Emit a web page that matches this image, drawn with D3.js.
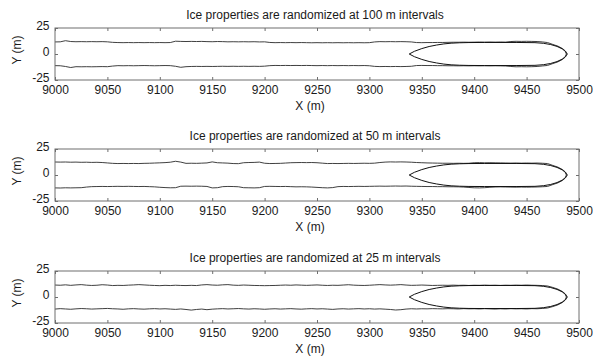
<!DOCTYPE html>
<html>
<head>
<meta charset="utf-8">
<script src="https://cdn.jsdelivr.net/npm/d3@7"></script>
<style>
  html, body { margin: 0; padding: 0; background: #fff; }
  svg { display: block; font-family: "Liberation Sans", Arial, sans-serif; }
</style>
</head>
<body>
<script>
// Panel titles
const titles = [
  "Ice properties are randomized at 100 m intervals",
  "Ice properties are randomized at 50 m intervals",
  "Ice properties are randomized at 25 m intervals"
];

// Axis ticks
const xTicks = [9000, 9050, 9100, 9150, 9200, 9250, 9300, 9350, 9400, 9450, 9500];
const yTicks = [-25, 0, 25];

// Along-channel stations (m) shared by all channel edge traces
const edgeX = [
  9000, 9005, 9010, 9015, 9020, 9025, 9030, 9035, 9040, 9045,
  9050, 9055, 9060, 9065, 9070, 9075, 9080, 9085, 9090, 9095,
  9100, 9105, 9110, 9115, 9120, 9125, 9130, 9135, 9140, 9145,
  9150, 9155, 9160, 9165, 9170, 9175, 9180, 9185, 9190, 9195,
  9200, 9205, 9210, 9215, 9220, 9225, 9230, 9235, 9240, 9245,
  9250, 9255, 9260, 9265, 9270, 9275, 9280, 9285, 9290, 9295,
  9300, 9305, 9310, 9315, 9320, 9325, 9330, 9335, 9340, 9345,
  9350, 9355, 9360, 9365, 9370, 9375, 9380, 9385, 9390, 9395,
  9400, 9405, 9410, 9415, 9420, 9425, 9430, 9435, 9440, 9445,
  9450, 9455, 9460, 9465, 9470, 9475, 9480, 9484, 9487, 9489
];

// Channel edges, 100 m randomization
const edgeTop100 = [
  11.6, 11.7, 12.8, 12.0, 11.8, 11.9, 11.8, 11.9, 11.8, 11.9,
  11.7, 11.2, 11.0, 10.9, 11.0, 10.9, 11.0, 10.9, 11.0, 10.9,
  11.0, 10.9, 11.0, 12.3, 12.1, 12.0, 12.1, 12.0, 12.1, 11.9,
  11.8, 12.0, 11.9, 11.7, 11.8, 11.7, 11.8, 11.7, 11.8, 11.6,
  11.7, 11.1, 10.9, 11.0, 10.9, 11.0, 10.9, 11.0, 10.9, 10.8,
  10.9, 10.8, 10.9, 10.8, 10.9, 10.8, 10.9, 10.8, 10.9, 10.8,
  10.9, 11.6, 11.9, 11.8, 11.9, 11.8, 11.9, 11.8, 11.6, 11.0,
  10.9, 11.0, 11.0, 11.1, 11.1, 11.2, 11.3, 11.3, 11.4, 11.3,
  11.4, 11.5, 11.4, 11.5, 11.4, 11.5, 11.4, 12.0, 12.2, 12.1,
  12.2, 12.1, 12.0, 11.6, 11.0, 9.2, 7.5, 5.4, 2.9, 0
];
const edgeBot100 = [
  -11.2, -11.3, -12.0, -13.0, -12.2, -12.3, -12.2, -12.3, -12.2, -12.1,
  -12.2, -11.6, -11.2, -11.3, -11.2, -11.3, -11.2, -11.1, -11.2, -11.3,
  -11.2, -11.1, -11.2, -11.8, -12.8, -12.2, -12.0, -11.9, -12.0, -11.9,
  -12.0, -11.9, -11.8, -11.9, -11.8, -11.9, -11.8, -11.9, -11.8, -11.9,
  -11.7, -11.2, -11.0, -11.1, -11.0, -11.1, -11.0, -11.1, -11.0, -11.1,
  -11.2, -11.1, -11.2, -11.1, -11.2, -11.1, -11.2, -11.1, -11.2, -11.1,
  -11.3, -11.9, -12.1, -12.0, -12.1, -12.0, -12.1, -12.0, -11.8, -11.1,
  -11.0, -11.1, -11.1, -11.2, -11.2, -11.3, -11.3, -11.4, -11.3, -11.4,
  -11.3, -11.4, -11.3, -11.4, -11.3, -11.4, -11.5, -12.0, -12.3, -12.2,
  -12.3, -12.2, -12.0, -11.5, -11.0, -9.2, -7.5, -5.4, -2.9, 0
];

// Channel edges, 50 m randomization
const edgeTop50 = [
  12.5, 12.4, 12.5, 12.3, 12.4, 12.2, 12.3, 12.1, 12.2, 12.0,
  11.6, 11.2, 11.0, 11.1, 11.0, 11.1, 11.0, 11.2, 11.3, 11.5,
  11.7, 11.9, 12.3, 13.2, 12.4, 11.2, 11.3, 11.2, 11.4, 11.6,
  12.6, 11.8, 11.6, 11.4, 11.0, 10.9, 11.8, 12.0, 12.1, 12.4,
  11.3, 11.0, 11.1, 11.2, 11.5, 11.8, 11.9, 12.0, 11.9, 12.0,
  11.8, 11.4, 11.0, 11.1, 11.0, 11.1, 11.2, 11.1, 11.2, 11.3,
  11.2, 11.4, 12.0, 12.4, 12.6, 12.5, 12.6, 12.5, 12.3, 12.0,
  11.8, 11.6, 11.5, 11.4, 11.3, 11.3, 11.2, 11.3, 11.2, 11.3,
  11.8, 11.9, 11.7, 11.8, 11.7, 11.6, 11.5, 11.4, 11.5, 11.4,
  11.5, 11.4, 11.5, 11.3, 11.0, 9.2, 7.5, 5.4, 2.9, 0
];
const edgeBot50 = [
  -12.4, -12.5, -12.3, -12.4, -12.3, -12.2, -11.6, -11.2, -11.1, -11.0,
  -11.1, -11.0, -10.9, -11.0, -10.9, -11.0, -11.1, -11.0, -11.2, -11.4,
  -11.8, -12.1, -12.3, -12.2, -10.8, -10.7, -10.8, -10.7, -10.8, -11.0,
  -12.4, -12.2, -11.2, -11.0, -11.1, -11.3, -12.2, -12.3, -12.4, -12.2,
  -11.0, -10.9, -11.0, -11.1, -11.0, -11.2, -11.4, -11.3, -11.4, -11.6,
  -11.9, -12.2, -12.4, -12.1, -11.2, -11.0, -11.1, -11.0, -10.9, -11.0,
  -10.9, -10.8, -10.7, -10.8, -10.7, -10.6, -10.7, -10.6, -10.8, -10.9,
  -11.0, -11.1, -11.1, -11.2, -11.2, -11.3, -11.3, -11.4, -11.6, -12.0,
  -12.3, -12.4, -12.2, -11.8, -11.5, -11.4, -11.5, -11.6, -11.7, -11.6,
  -11.7, -11.6, -11.5, -11.3, -11.0, -9.2, -7.5, -5.4, -2.9, 0
];

// Channel edges, 25 m randomization
const edgeTop25 = [
  11.5, 11.3, 11.7, 11.2, 11.6, 11.9, 11.4, 11.1, 11.3, 11.8,
  11.5, 11.0, 11.2, 11.1, 11.4, 11.6, 11.9, 11.6, 11.3, 11.1,
  10.9, 11.2, 11.0, 11.3, 11.1, 11.0, 11.2, 11.0, 11.6, 11.9,
  11.5, 11.3, 11.7, 11.9, 11.4, 11.2, 11.5, 11.3, 11.1, 11.0,
  10.9, 11.0, 11.1, 11.3, 11.5, 11.3, 11.6, 11.4, 11.2, 11.4,
  11.6, 11.3, 11.1, 11.3, 11.2, 11.5, 11.8, 11.4, 11.2, 11.1,
  11.3, 11.6, 11.9, 11.6, 11.4, 11.6, 11.9, 11.5, 11.2, 11.3,
  11.5, 11.3, 11.1, 11.2, 11.3, 11.2, 11.4, 11.2, 11.3, 11.1,
  11.3, 11.2, 11.4, 11.2, 11.3, 11.1, 11.3, 11.2, 11.4, 11.3,
  11.5, 11.3, 11.2, 11.0, 10.6, 9.2, 7.5, 5.4, 2.9, 0
];
const edgeBot25 = [
  -11.6, -11.2, -11.5, -11.8, -11.4, -11.1, -11.3, -11.6, -11.4, -11.2,
  -11.0, -11.3, -11.5, -11.8, -11.4, -11.2, -11.5, -11.7, -11.4, -11.2,
  -11.5, -11.3, -11.6, -11.9, -11.5, -12.0, -12.6, -12.0, -11.6, -12.2,
  -11.7, -11.4, -11.2, -11.5, -11.3, -11.1, -11.4, -11.6, -11.3, -11.5,
  -11.8, -11.5, -11.3, -11.6, -11.4, -11.2, -11.5, -11.7, -11.4, -11.2,
  -11.5, -11.3, -11.6, -11.9, -11.5, -11.3, -11.6, -11.4, -11.2, -11.5,
  -11.3, -11.6, -11.4, -11.7, -12.0, -12.5, -12.2, -11.6, -11.3, -11.5,
  -11.3, -11.4, -11.2, -11.3, -11.4, -11.2, -11.3, -11.5, -11.2, -11.4,
  -11.3, -11.5, -11.2, -11.4, -11.6, -11.3, -11.5, -11.2, -11.4, -11.3,
  -11.5, -11.2, -11.3, -11.0, -10.6, -9.2, -7.5, -5.4, -2.9, 0
];

// Ship hull waterline: stations (m) and half-breadth (m)
const hullX = [9338, 9343, 9350, 9357, 9364, 9371, 9378, 9386, 9395, 9410,
               9440, 9458, 9466, 9473, 9479, 9484, 9487, 9488];
const hullHalfBeam = [0, 2.6, 5.2, 7.2, 8.6, 9.7, 10.4, 10.8, 11.0, 11.1,
                      11.1, 10.9, 10.3, 9.1, 7.3, 4.9, 2.5, 0];

const edgeTops = [edgeTop100, edgeTop50, edgeTop25];
const edgeBots = [edgeBot100, edgeBot50, edgeBot25];

// ---- layout ----
const W = 593, H = 361;
const left = 55, right = 579;
const panelTops = [28, 149, 271];
const panelH = 52;
const boxColor = "#6e6e6e";
const textColor = "#1a1a1a";

const svg = d3.select("body").append("svg")
  .attr("width", W).attr("height", H);

const x = d3.scaleLinear().domain([9000, 9500]).range([left, right]);

panelTops.forEach((top, i) => {
  const y = d3.scaleLinear().domain([-25, 25]).range([top + panelH, top]);
  const g = svg.append("g");

  const line = d3.line().x(d => x(d[0])).y(d => y(d[1]));

  // channel edges
  [edgeTops[i], edgeBots[i]].forEach(vals => {
    g.append("path")
      .attr("d", line(edgeX.map((xv, k) => [xv, vals[k]])))
      .attr("fill", "none")
      .attr("stroke", "#2a2a2a")
      .attr("stroke-width", 0.9);
  });

  // hull outline (starboard then port side)
  const hullPts = hullX.map((xv, k) => [xv, hullHalfBeam[k]])
    .concat(hullX.map((xv, k) => [xv, -hullHalfBeam[k]]).reverse());
  g.append("path")
    .attr("d", line(hullPts))
    .attr("fill", "none")
    .attr("stroke", "#111")
    .attr("stroke-width", 1);

  // inward ticks on all four sides
  const axB = g.append("g").attr("transform", `translate(0,${top + panelH})`)
    .call(d3.axisBottom(x).tickValues(xTicks).tickSize(-3).tickPadding(4).tickFormat(d => String(d)));
  const axT = g.append("g").attr("transform", `translate(0,${top})`)
    .call(d3.axisTop(x).tickValues(xTicks).tickSize(-3).tickFormat(""));
  const axL = g.append("g").attr("transform", `translate(${left},0)`)
    .call(d3.axisLeft(y).tickValues(yTicks).tickSize(-3).tickPadding(5).tickFormat(d => String(d)));
  const axR = g.append("g").attr("transform", `translate(${right},0)`)
    .call(d3.axisRight(y).tickValues(yTicks).tickSize(-3).tickFormat(""));

  [axB, axT, axL, axR].forEach(a => {
    a.select(".domain").remove();
    a.selectAll(".tick line").attr("stroke", boxColor);
  });
  axB.selectAll(".tick text")
    .attr("y", 13.5).attr("dy", 0)
    .attr("fill", textColor).style("font-size", "12px")
    .style("font-family", '"Liberation Sans", Arial, sans-serif');
  axL.selectAll(".tick text")
    .attr("x", -5.5).attr("dy", "1.2")
    .attr("fill", textColor).style("font-size", "12px")
    .style("font-family", '"Liberation Sans", Arial, sans-serif');

  // axes box
  g.append("rect")
    .attr("x", left).attr("y", top)
    .attr("width", right - left).attr("height", panelH)
    .attr("fill", "none").attr("stroke", boxColor).attr("stroke-width", 1);

  // title
  g.append("text")
    .attr("x", 315).attr("y", top - 9.5)
    .attr("text-anchor", "middle")
    .attr("fill", textColor).style("font-size", "12px")
    .text(titles[i]);

  // x label
  g.append("text")
    .attr("x", 310).attr("y", top + panelH + 29.5)
    .attr("text-anchor", "middle")
    .attr("fill", textColor).style("font-size", "12px")
    .text("X (m)");

  // y label
  g.append("text")
    .attr("transform", `translate(21,${top + panelH / 2 - 4}) rotate(-90)`)
    .attr("text-anchor", "middle")
    .attr("fill", textColor).style("font-size", "12px")
    .text("Y (m)");
});
</script>
</body>
</html>
